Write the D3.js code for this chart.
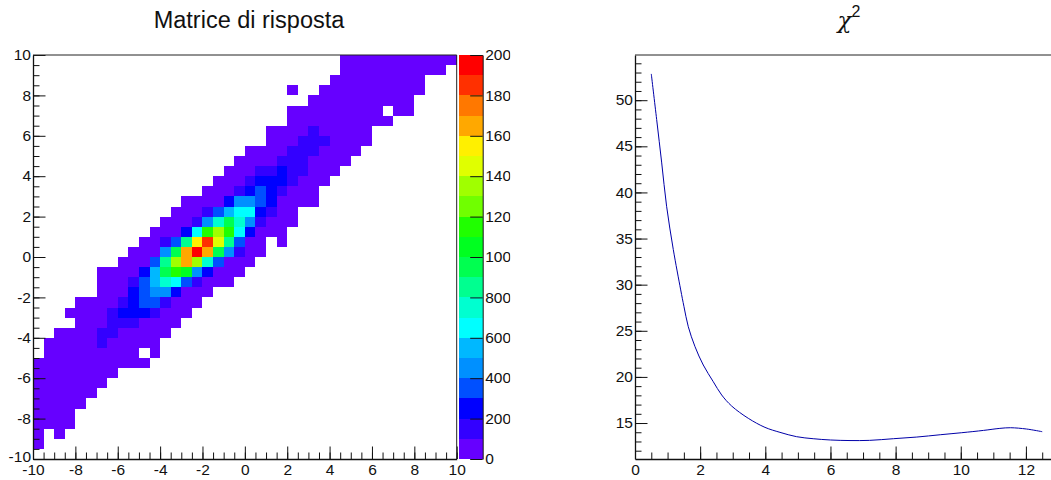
<!DOCTYPE html>
<html lang="en">
<head>
<meta charset="UTF-8">
<title>Matrice di risposta</title>
<script src="https://d3js.org/d3.v7.min.js"></script>
<style>
    html, body { margin: 0; background: #fff; }
    svg { display: block; font-family: "Liberation Sans", Arial, sans-serif; }
    .axis text { font-size: 15.5px; fill: #111; }
    .axis path, .axis line { stroke: #111; }
    .minor text { display: none; }
    .title { font-size: 23.5px; fill: #111; text-anchor: middle; }
</style>
</head>
<body>
<div id="container"></div>
<script>
// response matrix: 40 x 40 bins, rows from the top (y = 10) down, each row starts at firstBin
var firstBin = [29,29,28,24,26,24,24,22,22,20,19,18,17,16,14,13,12,11,10,9,8,6,6,6,4,3,4,2,1,1,0,0,0,0,0,0,0,0,0];
var binCounts = [
    [50,50,50,50,50,50,50,50,50,50,50],
    [50,50,50,50,50,50,50,50,50,50],
    [50,50,50,50,50,50,50,50,50],
    [50,0,0,50,50,50,50,50,50,50,50,50,50],
    [50,50,50,50,50,50,50,50,50,50],
    [50,50,50,50,50,50,50,50,50,0,50,50],
    [50,50,50,50,50,50,50,50,50,50],
    [50,50,50,50,150,50,50,50,50,50],
    [50,50,50,150,150,150,50,50,50,50],
    [50,50,50,50,150,150,150,50,50,50,50],
    [50,50,50,50,150,150,150,50,50,50,50],
    [50,50,50,150,150,250,150,150,50,50,50],
    [50,50,50,150,250,250,250,150,50,50,50],
    [50,50,50,150,250,350,250,150,50,50,50],
    [50,50,50,50,250,450,450,350,250,50,50,50,50],
    [50,50,50,150,350,550,650,650,250,150,50,50],
    [50,50,50,150,450,750,950,750,450,150,50,50,50],
    [50,50,50,250,650,1150,1350,1150,650,250,50,50,50],
    [50,50,150,350,850,1550,1850,1450,850,350,50,50,0,50],
    [50,50,50,450,950,1650,1950,1650,950,450,150,50,50],
    [50,50,50,350,850,1350,1650,1350,750,350,50,50,50],
    [50,50,50,50,250,550,950,1150,1050,450,250,50,50,50],
    [50,50,50,150,350,550,750,650,350,150,50,50,50],
    [50,50,50,250,350,450,450,250,50,50,50],
    [50,50,50,50,150,250,350,350,150,50,50,50],
    [50,50,50,50,150,250,250,250,150,50,50,50],
    [50,50,50,150,150,150,50,50,50,50],
    [50,50,50,50,150,150,50,50,50,50,50],
    [50,50,50,50,50,150,50,50,50,50,50],
    [50,50,50,50,50,50,50,50,50,0,50],
    [50,50,50,50,50,50,50,50,50,50,50],
    [50,50,50,50,50,50,50,50],
    [50,50,50,50,50,50,50],
    [50,50,50,50,50,50],
    [50,50,50,50,50],
    [50,50,50,50],
    [50,50,50,50],
    [50,0,50],
    [50]
];
var paletteColors = ["#6600ff","#3300ff","#0000ff","#0050ff","#0090ff","#00b8ff","#00ffff","#00ffd0","#00ff90","#00ff50",
                     "#00ff20","#20ff00","#70ff00","#a0ff00","#e0ff00","#fff000","#ffa800","#ff7800","#ff3000","#ff0000"];
var paletteTicks = [0,200,400,600,800,1000,1200,1400,1600,1800,2000];
var matrixTicks = [-10,-8,-6,-4,-2,0,2,4,6,8,10];
var matrixMinor = d3.range(-10, 10.5, 0.5);

// chi square curve
var chiK = [0.5,0.665,0.82,0.97,1.176,1.403,1.504,1.636,1.842,2.096,2.403,2.661,2.968,3.478,3.99,4.45,4.96,5.47,6,6.6,7.2,7.93,8.65,9.37,10.03,10.7,11.2,11.53,12.02,12.5];
var chiValues = [52.85,47.9,43.2,38.5,33.8,29.43,27.61,25.44,23.28,21.29,19.48,18.04,16.84,15.51,14.53,13.99,13.52,13.3,13.16,13.1,13.12,13.3,13.48,13.73,13.95,14.2,14.42,14.49,14.35,14.06];
var chiXTicks = [0,2,4,6,8,10,12];
var chiYTicks = [15,20,25,30,35,40,45,50];
var chiXMinor = d3.range(0, 13, 0.5);
var chiYMinor = d3.range(12, 55, 1);

var width = 1051, height = 480;
var top_y = 55, bottom_y = 459;
var svg = d3.select("#container").append("svg").attr("width", width).attr("height", height);

// left panel
var x = d3.scaleLinear().domain([-10, 10]).range([33, 456.7]);
var y = d3.scaleLinear().domain([-10, 10]).range([bottom_y, top_y]);
var color = d3.scaleQuantize().domain([0, 2000]).range(paletteColors);

var rows = svg.append("g").selectAll("g").data(binCounts).join("g");
rows.selectAll("rect")
    .data(function(d, j) {
        return d.map(function(v, k) { return {col: firstBin[j] + k, row: j, value: v}; }).filter(function(c) { return c.value > 0; });
    })
    .join("rect")
    .attr("x", function(c) { return x(-10 + c.col * 0.5); })
    .attr("y", function(c) { return y(10 - c.row * 0.5); })
    .attr("width", x(0.5) - x(0))
    .attr("height", y(0) - y(0.5))
    .attr("fill", function(c) { return color(c.value); })
    .attr("shape-rendering", "crispEdges");

function drawAxis(axisFn, scale, ticks, minor, at) {
    var minorG = svg.append("g").attr("class", "axis minor").attr("transform", at)
        .call(axisFn(scale).tickValues(minor).tickSizeInner(-6.5).tickSizeOuter(0));
    minorG.select("path").remove();
    minorG.selectAll("line").attr("stroke-width", 1);
    var g = svg.append("g").attr("class", "axis").attr("transform", at)
        .call(axisFn(scale).tickValues(ticks).tickSizeInner(-12.5).tickSizeOuter(0).tickPadding(axisFn === d3.axisBottom ? 5 : 2).tickFormat(String));
    g.select("path").attr("stroke-width", 1.3);
    if (axisFn === d3.axisLeft) g.selectAll(".tick text").attr("dy", "0.3em");
    return g;
}

drawAxis(d3.axisBottom, x, matrixTicks, matrixMinor, "translate(0," + bottom_y + ")");
var leftAxis = drawAxis(d3.axisLeft, y, matrixTicks, matrixMinor, "translate(33,0)");
// the -10 of the y axis sits a little higher, clear of the x axis label
leftAxis.selectAll(".tick text").filter(function(d) { return d === -10; }).attr("dy", "0.17em");
// frame top / right
svg.append("path").attr("d", d3.line()([[33, top_y], [x(10), top_y], [x(10), bottom_y]]))
    .attr("fill", "none").attr("stroke", "#222").attr("stroke-width", 1);

// palette
var zScale = d3.scaleLinear().domain([0, 2000]).range([bottom_y, top_y]);
svg.append("g").selectAll("rect").data(paletteColors).join("rect")
    .attr("x", 459).attr("width", 23.7)
    .attr("y", function(d, i) { return zScale((i + 1) * 100); })
    .attr("height", zScale(0) - zScale(100))
    .attr("fill", function(d) { return d; })
    .attr("shape-rendering", "crispEdges");
// labels are cut at the pad edge, as in the original
svg.append("clipPath").attr("id", "paletteClip").append("rect")
    .attr("x", -25).attr("y", 40).attr("width", 52.5).attr("height", 440);
var zAxis = svg.append("g").attr("class", "axis").attr("transform", "translate(482.7,0)")
    .attr("clip-path", "url(#paletteClip)")
    .call(d3.axisRight(zScale).tickValues(paletteTicks).tickSizeInner(-12.5).tickSizeOuter(0).tickPadding(2.5).tickFormat(String));
zAxis.select("path").attr("stroke", "#777");
zAxis.selectAll(".tick text").attr("dy", "0.3em");

svg.append("text").attr("class", "title").attr("x", 249).attr("y", 28).text("Matrice di risposta");

// right panel
var x2 = d3.scaleLinear().domain([0, 12.77]).range([635, 1051]);
var y2 = d3.scaleLinear().domain([11.1, 54.9]).range([bottom_y, top_y]);
drawAxis(d3.axisBottom, x2, chiXTicks, chiXMinor, "translate(0," + bottom_y + ")");
drawAxis(d3.axisLeft, y2, chiYTicks, chiYMinor, "translate(635,0)");
svg.append("line").attr("x1", 635).attr("x2", 1051).attr("y1", top_y).attr("y2", top_y)
    .attr("stroke", "#222").attr("stroke-width", 1);

var chiLine = d3.line()
    .x(function(d, i) { return x2(chiK[i]); })
    .y(function(d) { return y2(d); })
    .curve(d3.curveCatmullRom);
svg.append("path").datum(chiValues)
    .attr("fill", "none").attr("stroke", "#0000a8").attr("stroke-width", 1)
    .attr("d", chiLine);

var chiTitle = svg.append("text").attr("class", "title").attr("x", 849).attr("y", 28);
chiTitle.append("tspan").attr("font-family", "DejaVu Serif").attr("font-style", "italic").attr("font-size", 23).text("χ");
chiTitle.append("tspan").attr("font-size", 16).attr("dy", -11).text("2");
</script>
</body>
</html>
